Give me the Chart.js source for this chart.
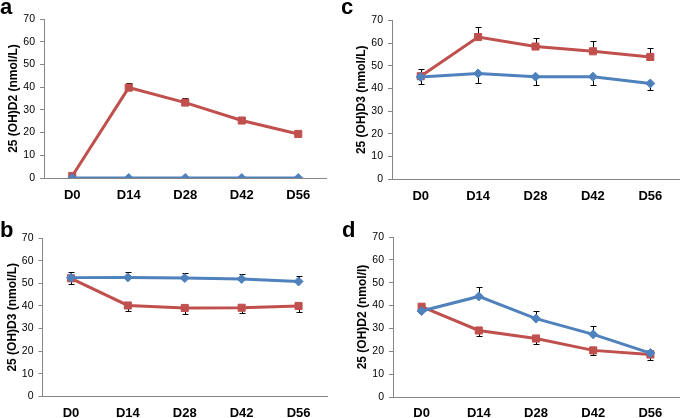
<!DOCTYPE html>
<html>
<head>
<meta charset="utf-8">
<script src="https://cdn.jsdelivr.net/npm/chart.js@4.4.1/dist/chart.umd.min.js"></script>
<style>
  body { margin: 0; background: #fff; }
  #wrap { position: relative; width: 685px; height: 418px; overflow: hidden; }
  canvas { position: absolute; }
  .tag { position: absolute; font: bold 22px "Liberation Sans", Arial, sans-serif; color: #000; }
</style>
</head>
<body>
<div id="wrap">
  <canvas id="pa" width="340" height="209" style="left:0;top:0"></canvas>
  <canvas id="pc" width="345" height="209" style="left:340px;top:0"></canvas>
  <canvas id="pb" width="340" height="209" style="left:0;top:209px"></canvas>
  <canvas id="pd" width="345" height="209" style="left:340px;top:209px"></canvas>
  <div class="tag" style="left:0;top:-6px">a</div>
  <div class="tag" style="left:341px;top:-6px">c</div>
  <div class="tag" style="left:0;top:217px">b</div>
  <div class="tag" style="left:342px;top:217px">d</div>
</div>
<script>
// days of sampling
const days = ["D0", "D14", "D28", "D42", "D56"];
const yTicks = [0, 10, 20, 30, 40, 50, 60, 70];

// panel a : 25(OH)D2
const aBlue = [0, 0, 0, 0, 0];
const aBlueErr = [0, 0, 0, 0, 0];
const aRed = [0.9, 39.8, 33.2, 25.3, 19.4];
const aRedErr = [0.5, 2.2, 2.0, 1.2, 0.9];

// panel b : 25(OH)D3
const bBlue = [52.5, 52.6, 52.3, 51.9, 50.8];
const bBlueErr = [2.5, 2.3, 2.4, 2.4, 2.4];
const bRed = [52.2, 40.2, 39.1, 39.2, 40.0];
const bRedErr = [2.4, 2.5, 2.6, 2.5, 2.6];

// panel c : 25(OH)D3
const cBlue = [45.1, 46.6, 45.2, 45.2, 42.2];
const cBlueErr = [3.3, 4.4, 3.9, 3.5, 3.0];
const cRed = [45.4, 62.7, 58.5, 56.4, 53.9];
const cRedErr = [3.2, 4.4, 3.6, 4.5, 4.1];

// panel d : 25(OH)D2
const dBlue = [37.6, 44.0, 34.3, 27.4, 19.2];
const dBlueErr = [1.0, 4.3, 3.3, 3.8, 1.4];
const dRed = [39.5, 29.1, 25.6, 20.4, 18.6];
const dRedErr = [1.0, 2.2, 2.2, 2.2, 2.4];

const BLUE = '#4F81BD';
const RED = '#C0504D';
const AXIS = '#868686';
const FONT = '"Liberation Sans", Arial, sans-serif';

// error bars, one direction per series (dir 1 = up, -1 = down)
const errorBars = {
  id: 'errorBars',
  beforeDatasetsDraw(chart) {
    const ctx = chart.ctx;
    const y = chart.scales.y;
    ctx.save();
    ctx.strokeStyle = '#000';
    ctx.lineWidth = 1;
    chart.data.datasets.forEach((ds, i) => {
      const meta = chart.getDatasetMeta(i);
      meta.data.forEach((pt, j) => {
        const e = ds.err[j];
        if (!e) return;
        const v = ds.data[j] + ds.dir * e;
        const py = Math.round(y.getPixelForValue(v)) + 0.5;
        const px = Math.round(pt.x) + 0.5;
        ctx.beginPath();
        ctx.moveTo(px, pt.y);
        ctx.lineTo(px, py);
        ctx.moveTo(px - 3, py);
        ctx.lineTo(px + 3, py);
        ctx.stroke();
      });
    });
    ctx.restore();
  }
};

function series(data, err, dir, color, shape, r) {
  return {
    data: data, err: err, dir: dir,
    borderColor: color, backgroundColor: color,
    borderWidth: 3,
    pointStyle: shape, pointRadius: r, pointBorderWidth: 1,
    pointBackgroundColor: color, pointBorderColor: color,
    tension: 0
  };
}

// box = chart area inside the canvas
function panel(id, title, blue, blueErr, blueDir, red, redErr, redDir, box) {
  new Chart(document.getElementById(id), {
    type: 'line',
    data: {
      labels: days,
      datasets: [
        series(blue, blueErr, blueDir, BLUE, 'rectRot', 4.5),
        series(red, redErr, redDir, RED, 'rect', 5)
      ]
    },
    plugins: [errorBars],
    options: {
      responsive: false,
      animation: false,
      devicePixelRatio: 1,
      layout: { padding: { left: 0, top: box.top, right: box.right, bottom: 0 } },
      plugins: { legend: { display: false }, tooltip: { enabled: false } },
      scales: {
        x: {
          offset: true,
          grid: { display: true, drawOnChartArea: false, drawTicks: false, color: 'rgba(0,0,0,0)' },
          border: { display: true, color: AXIS, width: 1 },
          ticks: { color: '#000', padding: box.xpad, font: { family: FONT, size: 13, weight: 'bold' } },
          afterFit(s) { s.height = box.xh; }
        },
        y: {
          min: 0, max: 70,
          afterBuildTicks(s) { s.ticks = yTicks.map(v => ({ value: v })); },
          grid: { display: true, drawOnChartArea: false, drawTicks: true, tickLength: 4, color: AXIS },
          border: { display: true, color: AXIS, width: 1 },
          ticks: { color: '#000', padding: 5, font: { family: FONT, size: 10.5 } },
          title: {
            display: true, text: title, color: '#000',
            padding: { top: box.left - 37.5, bottom: 0 },
            font: { family: FONT, size: 12, weight: 'bold' }
          },
          afterFit(s) { s.width = box.left; }
        }
      }
    }
  });
}

panel('pa', '25 (OH)D2 (nmol/L)', aBlue, aBlueErr, 1, aRed, aRedErr, 1,
  { left: 44, top: 19, right: 13.5, xh: 31, xpad: 10 });
panel('pc', '25 (OH)D3 (nmol/L)', cBlue, cBlueErr, -1, cRed, cRedErr, 1,
  { left: 52, top: 20.5, right: 0, xh: 30, xpad: 10 });
panel('pb', '25 (OH)D3 (nmol/L)', bBlue, bBlueErr, 1, bRed, bRedErr, -1,
  { left: 42.5, top: 29, right: 13, xh: 21.5, xpad: 9 });
panel('pd', '25 (OH)D2 (nmol/l)', dBlue, dBlueErr, 1, dRed, dRedErr, -1,
  { left: 53, top: 28, right: 0, xh: 21, xpad: 9 });
</script>
</body>
</html>
